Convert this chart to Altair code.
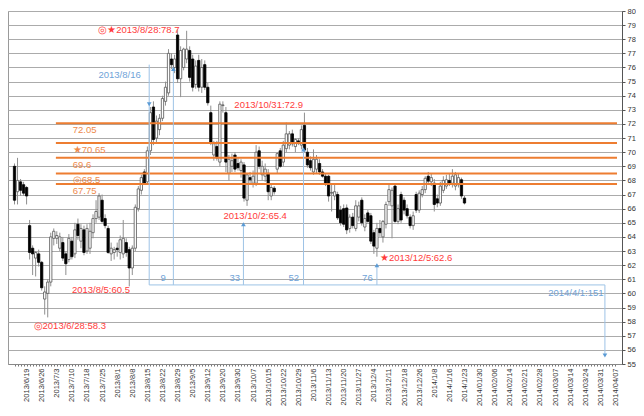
import json
import altair as alt
import pandas as pd

# ---------------- data ----------------
tick_labels = ["2013/6/19", "2013/6/26", "2013/7/3", "2013/7/10", "2013/7/18", "2013/7/25",
               "2013/8/1", "2013/8/8", "2013/8/15", "2013/8/22", "2013/8/29", "2013/9/5",
               "2013/9/12", "2013/9/20", "2013/9/30", "2013/10/7", "2013/10/15", "2013/10/22",
               "2013/10/29", "2013/11/6", "2013/11/13", "2013/11/20", "2013/11/27", "2013/12/4",
               "2013/12/11", "2013/12/18", "2013/12/26", "2014/1/8", "2014/1/16", "2014/1/23",
               "2014/01/30", "2014/02/06", "2014/02/14", "2014/02/21", "2014/02/28", "2014/03/07",
               "2014/03/14", "2014/03/24", "2014/03/31", "2014/04/07"]
first_label_bar = 4
bars_per_label = 5
n_slots = 200

opens = [69.0, 67.2, 67.9, 67.7, 67.5, 64.8, 63.2, 62.5, 62.8, 62.2,
         59.6, 60.0, 60.8, 63.9, 63.9, 63.2, 63.6, 62.8, 62.4, 63.7,
         62.8, 64.9, 63.7, 64.5, 63.0, 63.2, 64.3, 65.3, 65.4, 66.6,
         65.3, 64.6, 62.8, 62.9, 63.2, 62.9, 62.8, 63.6, 63.1, 61.8,
         63.2, 66.0, 67.3, 68.6, 67.9, 70.1, 73.2, 71.0, 71.6, 72.4,
         73.6, 74.2, 76.6, 76.0, 78.3, 75.2, 76.0, 76.6, 77.2, 76.6,
         74.8, 76.5, 74.6, 76.2, 74.6, 72.8, 69.8, 70.4, 69.3, 73.3,
         72.8, 68.5, 69.0, 69.8, 69.2, 68.7, 69.1, 66.6, 68.2, 67.8,
         67.8, 70.1, 68.4, 68.3, 68.5, 66.9, 67.45, 68.8, 70.1, 69.3,
         70.25, 70.5, 71.3, 70.4, 70.8, 70.5, 71.9, 70.0, 69.4, 68.6,
         68.8, 69.2, 68.6, 68.3, 68.3, 67.1, 66.9, 67.0, 65.9, 66.0,
         66.05, 64.6, 65.4, 64.6, 65.4, 66.6, 64.7, 65.7, 65.5, 64.3,
         63.2, 64.6, 64.0, 64.9, 66.5, 66.2, 67.6, 65.1, 67.0, 66.6,
         66.0, 65.4, 64.8, 67.0, 65.9, 67.0, 67.35, 68.3, 67.9, 67.8,
         66.7, 66.4, 67.3, 67.6, 68.0, 67.8, 67.6, 67.7, 68.05, 66.75]
highs = [69.2, 69.6, 68.1, 67.9, 67.6, 65.2, 63.4, 63.0, 63.1, 62.3,
         60.5, 61.0, 64.3, 64.6, 64.4, 64.3, 64.0, 63.0, 64.2, 64.0,
         65.0, 65.3, 64.9, 64.8, 64.9, 65.0, 65.6, 66.6, 67.1, 67.0,
         65.6, 64.8, 63.6, 63.3, 63.6, 64.1, 65.2, 63.9, 63.3, 63.4,
         66.3, 67.6, 68.4, 68.8, 70.4, 73.2, 73.6, 72.6, 72.7, 74.0,
         75.0, 77.3, 77.0, 76.9, 78.7, 77.5, 77.4, 78.6, 77.5, 76.9,
         76.5, 76.9, 76.6, 76.5, 74.9, 73.3, 70.8, 70.8, 73.6, 73.6,
         73.2, 69.8, 69.9, 70.0, 69.6, 69.5, 69.3, 68.5, 68.6, 68.7,
         70.5, 70.4, 69.4, 69.2, 68.8, 67.7, 67.6, 70.0, 70.3, 70.8,
         72.1, 71.5, 71.6, 71.0, 71.0, 71.9, 72.8, 70.3, 69.7, 70.2,
         69.8, 69.5, 68.8, 68.5, 68.4, 67.7, 67.8, 67.2, 66.2, 66.3,
         66.3, 65.6, 65.7, 66.6, 66.5, 66.8, 65.6, 65.9, 65.7, 64.5,
         65.0, 65.2, 65.2, 66.5, 67.7, 67.5, 67.7, 66.3, 67.2, 66.8,
         66.3, 65.6, 65.8, 67.2, 67.3, 67.6, 68.3, 68.6, 68.5, 68.1,
         67.0, 67.9, 68.3, 68.4, 68.5, 68.8, 68.6, 68.5, 68.2, 66.9]
lows = [66.3, 66.3, 66.9, 66.9, 66.3, 62.4, 61.3, 61.2, 61.9, 60.2,
        58.5, 58.3, 60.5, 63.4, 63.5, 63.0, 62.3, 61.3, 62.2, 62.4,
        62.5, 63.8, 63.2, 62.7, 62.8, 62.8, 63.9, 65.0, 65.2, 65.0,
        64.6, 62.8, 62.3, 62.4, 62.6, 62.4, 62.5, 62.6, 60.5, 61.3,
        63.0, 65.8, 67.0, 67.7, 67.7, 69.8, 70.5, 70.6, 71.2, 72.2,
        73.3, 74.0, 75.9, 75.6, 74.9, 73.9, 75.8, 76.3, 75.0, 74.3,
        74.5, 74.3, 74.2, 74.4, 73.3, 70.5, 69.4, 69.4, 69.0, 72.8,
        68.6, 68.0, 68.6, 68.6, 68.7, 68.2, 66.5, 66.2, 67.7, 67.5,
        67.6, 68.8, 68.0, 67.9, 66.6, 66.6, 67.0, 68.5, 68.9, 69.0,
        70.0, 70.2, 70.4, 70.0, 70.5, 70.2, 70.0, 68.9, 68.7, 68.4,
        68.5, 68.4, 68.2, 67.6, 66.5, 65.8, 66.6, 65.2, 64.8, 64.7,
        64.2, 64.3, 64.6, 64.4, 65.1, 64.8, 64.4, 65.0, 63.5, 62.8,
        62.6, 64.0, 63.6, 64.6, 66.2, 63.9, 65.0, 64.9, 65.0, 65.6,
        65.3, 64.6, 64.5, 65.7, 65.7, 66.8, 67.1, 67.8, 67.6, 65.8,
        66.1, 66.2, 67.1, 67.4, 67.6, 67.5, 67.3, 67.5, 66.7, 66.3]
closes = [66.6, 68.0, 67.3, 67.1, 66.9, 62.9, 62.8, 62.9, 62.2, 60.4,
          60.1, 60.8, 64.0, 64.4, 64.1, 64.0, 62.5, 62.1, 63.9, 62.6,
          64.5, 64.1, 64.6, 62.9, 64.6, 64.4, 65.3, 65.8, 66.9, 65.1,
          64.8, 62.9, 63.2, 63.1, 63.1, 63.8, 63.9, 62.9, 61.8, 63.2,
          66.1, 67.4, 68.2, 67.8, 70.1, 72.8, 70.9, 72.2, 72.4, 73.8,
          74.6, 77.0, 76.2, 76.6, 75.2, 77.2, 77.3, 77.3, 75.3, 74.6,
          76.1, 74.6, 76.0, 74.6, 73.5, 70.7, 70.6, 69.6, 73.4, 73.35,
          69.3, 69.5, 69.4, 68.8, 68.9, 69.3, 66.75, 68.4, 68.05, 68.3,
          70.0, 69.0, 69.0, 68.8, 67.2, 67.5, 67.2, 69.9, 69.0, 70.5,
          71.3, 71.3, 70.6, 70.9, 70.65, 71.6, 70.15, 69.1, 68.9, 69.5,
          69.5, 68.6, 68.3, 67.8, 66.9, 67.15, 67.2, 65.35, 65.0, 64.9,
          64.5, 65.4, 64.8, 66.2, 66.2, 65.0, 65.3, 65.1, 63.7, 63.35,
          64.6, 64.3, 65.1, 66.3, 67.35, 67.3, 65.1, 66.0, 65.2, 65.9,
          65.5, 64.8, 65.5, 65.9, 67.1, 67.35, 68.15, 67.95, 68.2, 66.3,
          66.4, 67.6, 68.0, 68.05, 67.8, 68.3, 68.4, 68.2, 66.9, 66.4]

level_values = [72.05, 70.65, 69.6, 68.5, 67.75]
level_texts = ["72.05", "★70.65", "69.6", "◎68.5", "67.75"]
level_line_start = 13.7
level_text_x = 19.3

red_texts = ["◎★2013/8/28:78.7", "2013/10/31:72.9", "2013/10/2:65.4",
             "2013/8/5:60.5", "◎2013/6/28:58.3", "★2013/12/5:62.6"]
red_x = [27.7, 72.8, 69.2, 19.0, 6.3, 121.0]
red_y = [78.67, 73.33, 65.46, 60.27, 57.67, 62.5]

blue_texts = ["2013/8/16", "9", "33", "52", "76", "2014/4/1:151"]
blue_x = [27.8, 48.3, 71.2, 90.7, 115.1, 176.7]
blue_y = [75.5, 61.1, 61.1, 61.1, 61.1, 60.06]

seg_x = [44.6, 52.6, 75.8, 95.7, 120.0, 44.6, 195.5]
seg_x2 = [44.6, 52.6, 75.8, 95.7, 120.0, 195.5, 195.5]
seg_y = [76.2, 75.9, 64.9, 70.2, 62.0, 60.6, 60.6]
seg_y2 = [60.6, 60.6, 60.6, 60.6, 60.6, 60.6, 55.6]

arrow_x = [44.6, 52.6, 75.8, 95.7, 120.0, 195.5]
arrow_y = [73.4, 75.9, 64.9, 70.2, 62.0, 55.6]
arrow_shape = ["triangle-down", "triangle-up", "triangle-up", "triangle-up", "triangle-up", "triangle-down"]

# ---------------- tables ----------------
candles = pd.DataFrame({"i": list(range(len(opens))), "o": opens, "h": highs, "l": lows, "c": closes})
levels = pd.DataFrame({"v": level_values, "t": level_texts,
                       "x0": [level_line_start] * len(level_values),
                       "x1": [n_slots - 0.5] * len(level_values),
                       "xt": [level_text_x] * len(level_values)})
reds = pd.DataFrame({"x": red_x, "y": red_y, "t": red_texts})
blues = pd.DataFrame({"x": blue_x, "y": blue_y, "t": blue_texts})
segs = pd.DataFrame({"x": seg_x, "x2": seg_x2, "y": seg_y, "y2": seg_y2})
arrows = pd.DataFrame({"x": arrow_x, "y": arrow_y, "s": arrow_shape})

FONT = "Liberation Sans"
arr = json.dumps(tick_labels)
label_expr = (f"((datum.value - {first_label_bar}) % {bars_per_label} == 0 && datum.value >= {first_label_bar}) "
              f"? {arr}[(datum.value - {first_label_bar}) / {bars_per_label}] : ''")

xs = alt.Scale(domain=[-0.5, n_slots - 0.5], nice=False, zero=False)
ys = alt.Scale(domain=[55, 80], nice=False, zero=False)
xa = alt.Axis(values=list(range(n_slots)), labelExpr=label_expr, labelAngle=-90,
              labelFontSize=7.5, labelColor="#333333", labelFont=FONT, labelPadding=2,
              tickSize=2, tickColor="#777777", domainColor="#888888", grid=False,
              labelOverlap=False, labelFlush=False, title=None)
ya = alt.Axis(orient="right", values=list(range(55, 81)), grid=True, gridColor="#ababab",
              gridWidth=1, tickSize=3, tickColor="#555555", domainColor="#555555",
              labelFontSize=7.5, labelColor="#333333", labelFont=FONT, labelPadding=2,
              labelFlush=False, labelOverlap=False, title=None)


def X(f):
    return alt.X(f, type="quantitative", scale=xs, axis=xa)


def Y(f):
    return alt.Y(f, type="quantitative", scale=ys, axis=ya)


wicks = alt.Chart(candles).mark_rule(color="#8f8f8f", strokeWidth=1).encode(
    x=X("i"), y=Y("l"), y2="h")
bodies = alt.Chart(candles).mark_bar(size=2.3, strokeWidth=0.8).encode(
    x=X("i"), y=Y("o"), y2="c",
    fill=alt.condition("datum.o > datum.c", alt.value("#000000"), alt.value("#ffffff")),
    stroke=alt.condition("datum.o > datum.c", alt.value("#000000"), alt.value("#555555")))
level_lines = alt.Chart(levels).mark_rule(color="#ED7D31", strokeWidth=2).encode(
    x=X("x0"), x2="x1", y=Y("v"))
level_labels = alt.Chart(levels).mark_text(align="left", baseline="middle", dy=7,
                                           fontSize=9.5, font=FONT, color="#EE8A4C").encode(
    x=X("xt"), y=Y("v"), text="t")
blue_lines = alt.Chart(segs).mark_rule(color="#9DC3E6", strokeWidth=1).encode(
    x=X("x"), x2="x2", y=Y("y"), y2="y2")
blue_arrows = alt.Chart(arrows).mark_point(filled=True, size=22, opacity=1, color="#5B9BD5").encode(
    x=X("x"), y=Y("y"), shape=alt.Shape("s:N", scale=None))
blue_labels = alt.Chart(blues).mark_text(align="left", baseline="middle", fontSize=9.5,
                                         font=FONT, color="#6FA3D8").encode(
    x=X("x"), y=Y("y"), text="t")
red_labels = alt.Chart(reds).mark_text(align="left", baseline="middle", fontSize=9.5,
                                       font=FONT, color="#FF3B3B").encode(
    x=X("x"), y=Y("y"), text="t")

chart = alt.layer(wicks, bodies, level_lines, blue_lines, blue_arrows,
                  level_labels, blue_labels, red_labels).properties(
    width=614, height=353,
    autosize=alt.AutoSizeParams(type="none"),
    padding={"left": 0, "top": 3, "right": 14, "bottom": 44},
    background="#ffffff",
).configure_view(stroke="#9a9a9a", strokeWidth=1)

chart.save("out.html", embed_options={"renderer": "svg", "actions": False})
